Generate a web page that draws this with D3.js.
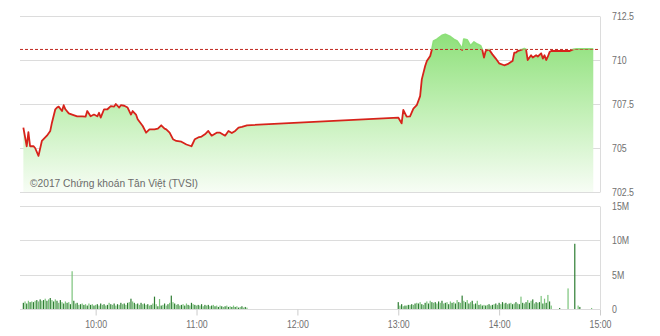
<!DOCTYPE html>
<html><head><meta charset="utf-8">
<script src="https://cdn.jsdelivr.net/npm/d3@7/dist/d3.min.js"></script>
<style>
html,body{margin:0;padding:0;background:#fff;}
svg{display:block;font-family:"Liberation Sans",Arial,sans-serif;}
</style></head>
<body>
<svg id="c" width="660" height="336"></svg>
<script>
// ---- data ----
const refPrice = 710.6;
const priceTimes = ["09:17","09:19","09:20","09:21","09:23","09:24","09:26","09:28","09:31","09:33","09:34","09:36","09:37","09:38","09:40","09:41","09:42","09:44","09:46","09:49","09:52","09:54","09:55","09:57","09:59","10:01","10:02","10:03","10:05","10:07","10:09","10:11","10:12","10:14","10:15","10:17","10:19","10:21","10:22","10:24","10:25","10:28","10:30","10:32","10:35","10:37","10:39","10:41","10:42","10:44","10:46","10:48","10:51","10:54","10:57","10:59","11:01","11:03","11:05","11:07","11:09","11:12","11:14","11:17","11:19","11:21","11:23","11:25","11:27","11:30",
"13:00","13:02","13:03","13:05","13:07","13:09","13:11","13:13","13:14","13:16","13:17","13:19","13:20","13:21","13:23","13:26","13:28","13:31","13:33","13:35","13:37","13:38","13:39","13:41","13:43","13:45","13:47","13:49","13:50","13:51","13:52","13:54","13:56","13:58","14:00","14:03","14:05","14:07","14:08","14:09","14:10","14:11","14:13","14:15","14:16","14:17","14:19","14:20","14:22","14:23","14:25","14:26","14:27","14:28","14:29","14:30","14:31","14:37","14:42","14:44","14:46","14:56"];
const priceValues = [706.16,705.1,705.9,705.1,705.1,705.0,704.55,705.4,705.7,705.97,706.44,707.2,707.3,707.35,707.1,707.43,707.2,706.97,706.9,706.8,706.8,706.78,707.1,706.8,706.9,706.8,707.0,706.73,707.2,707.2,707.38,707.35,707.5,707.3,707.43,707.4,707.3,706.9,707.1,706.9,706.63,706.25,705.87,706.06,706.06,706.1,706.29,706.1,706.06,705.87,705.5,705.4,705.36,705.2,705.1,705.5,705.6,705.65,705.78,705.97,705.7,705.87,705.87,705.7,705.97,705.85,705.97,706.16,706.2,706.29,
706.73,706.4,707.16,706.78,706.8,707.24,707.43,707.95,708.9,709.66,709.94,710.23,710.6,711.08,711.18,711.4,711.46,711.33,711.18,711.08,710.8,710.57,711.18,711.14,710.8,711.02,710.9,710.8,710.57,710.14,710.51,710.6,710.32,710.08,709.81,709.7,709.76,709.89,709.94,710.42,710.42,710.51,710.57,710.65,710.6,710.0,710.27,710.14,710.27,710.2,710.38,710.08,710.27,710.0,710.2,710.45,710.51,710.51,710.51,710.6,710.63,710.63];

const volMorningStart = "09:17";
const volMorning = [0.9,1.1,0.8,1.2,1.0,1.1,1.0,1.2,1.3,1.1,1.4,1.2,1.3,1.5,
1.2,1.4,1.6,1.3,1.1,1.4,1.2,0.9,1.3,1.0,0.8,1.1,0.9,1.0,0.7,
5.5,
1.2,0.8,0.9,0.6,0.7,0.8,0.6,0.7,0.5,0.8,0.6,0.7,0.5,0.6,
0.7,0.5,0.8,0.6,0.7,0.5,0.6,0.9,0.7,0.6,0.8,0.5,0.7,0.6,0.9,
0.7,0.8,0.6,0.9,1.0,1.5,1.1,0.9,0.7,0.8,0.6,0.9,0.7,0.8,0.6,
0.7,0.5,0.6,0.8,1.8,0.7,0.4,1.45,0.5,0.6,0.8,0.5,0.7,0.9,1.95,
1.0,0.8,0.6,0.7,0.5,0.6,0.7,0.5,0.8,0.6,0.5,0.9,0.7,0.6,0.5,
0.6,0.5,0.7,0.4,0.6,0.5,0.6,0.4,0.5,0.6,0.4,0.5,0.3,0.5,0.4,
0.3,0.4,0.5,0.3,0.4,0.3,0.5,0.3,0.4,0.2,0.3,0.4,0.2,0.3,0.2];
const volAfternoonStart = "13:00";
const volAfternoon = [1.0,0.5,0.7,0.4,0.5,0.5,0.6,0.6,0.7,0.6,0.8,0.9,0.8,1.0,0.7,0.6,
0.9,1.1,0.8,1.2,1.0,0.9,1.0,0.8,1.1,0.9,1.2,0.8,0.9,1.0,0.7,
1.1,0.9,1.0,0.8,1.3,1.0,0.9,1.95,1.2,1.0,1.3,0.8,1.0,1.2,0.7,
0.8,1.2,0.6,0.7,0.5,0.6,0.5,0.6,0.7,0.5,0.6,0.7,0.8,0.6,0.9,
0.7,1.0,0.8,0.9,0.7,0.8,0.9,0.7,0.8,1.0,0.8,0.7,1.8,0.9,0.8,
1.0,1.3,0.9,1.2,1.4,0.8,1.0,0.9,1.0,1.9,0.8,1.5,0.9,2.05,1.1,0.5];
const volLateTimes = ["14:36","14:41","14:45","14:47","14:48","14:55"];
const volLate = [0.15,3.0,9.5,0.5,0.3,0.15];

const priceTicks = [702.5,705,707.5,710,712.5];
const volTicks = [0,5,10,15];
const volTickLabels = ["0","5M","10M","15M"];
const timeTicks = ["10:00","11:00","12:00","13:00","14:00","15:00"];
const copyright = "©2017 Chứng khoán Tân Việt (TVSI)";

// ---- helpers ----
const parse = s => { const [h,m] = s.split(":").map(Number); return new Date(2017,0,1,h,m); };
const addMin = (s,i) => { const d = parse(s); return new Date(d.getTime()+i*60000); };

const price = priceTimes.map((t,i)=>({t:parse(t), v:priceValues[i]}));
const vols = [];
volMorning.forEach((v,i)=>vols.push({t:addMin(volMorningStart,i), v}));
volAfternoon.forEach((v,i)=>vols.push({t:addMin(volAfternoonStart,i), v}));
volLate.forEach((v,i)=>vols.push({t:parse(volLateTimes[i]), v}));

const svg = d3.select("#c");
const L = 20, R = 600;
const x = d3.scaleTime().domain([parse("09:15"), parse("15:00")]).range([L, R]);
const y = d3.scaleLinear().domain([702.5, 712.5]).range([192, 16]);
const yv = d3.scaleLinear().domain([0, 15]).range([309, 206]);
const grid = "#dcdcdc", txt = "#707070", SX = 0.8;

// top panel grid
const gTop = svg.append("g");
gTop.selectAll("line.g").data(priceTicks).join("line")
  .attr("x1", L).attr("x2", R)
  .attr("y1", d=>Math.round(y(d))+0.5).attr("y2", d=>Math.round(y(d))+0.5)
  .attr("stroke", grid).attr("stroke-width",1);
gTop.append("line").attr("x1",R+0.5).attr("x2",R+0.5).attr("y1",Math.round(y(712.5))+0.5).attr("y2",Math.round(y(702.5))+0.5)
  .attr("stroke",grid);

// gradient
const defs = svg.append("defs");
const grad = defs.append("linearGradient").attr("id","gf").attr("gradientUnits","userSpaceOnUse")
  .attr("x1",0).attr("x2",0).attr("y1",y(711.5)).attr("y2",y(702.5));
grad.append("stop").attr("offset",0).attr("stop-color","#8ee07a");
grad.append("stop").attr("offset",0.5).attr("stop-color","#c3f0b7");
grad.append("stop").attr("offset",1).attr("stop-color","#f7fdf5");

const area = d3.area().x(d=>x(d.t)).y0(y(702.5)).y1(d=>y(d.v));
svg.append("path").datum(price).attr("d",area).attr("fill","url(#gf)");

// copyright
svg.append("text").attr("x",30).attr("y",187).attr("font-size",11.5).attr("fill","#6b6b6b")
  .attr("textLength",168).attr("lengthAdjust","spacingAndGlyphs").text(copyright);

// ref line
svg.append("line").attr("x1",L).attr("x2",R).attr("y1",y(refPrice)).attr("y2",y(refPrice))
  .attr("stroke","#c0281f").attr("stroke-width",1).attr("stroke-dasharray","3,2");

// clip paths
defs.append("clipPath").attr("id","below").append("rect")
  .attr("x",0).attr("width",660).attr("y",y(refPrice)).attr("height",336);
defs.append("clipPath").attr("id","above").append("rect")
  .attr("x",0).attr("width",660).attr("y",0).attr("height",y(refPrice));
const line = d3.line().x(d=>x(d.t)).y(d=>y(d.v));
svg.append("path").datum(price).attr("d",line).attr("fill","none")
  .attr("stroke","#d7231b").attr("stroke-width",1.8).attr("stroke-linejoin","round")
  .attr("clip-path","url(#below)");
svg.append("path").datum(price).attr("d",line).attr("fill","none")
  .attr("stroke","#8ee07a").attr("stroke-width",1.8).attr("stroke-linejoin","round")
  .attr("clip-path","url(#above)");

// price axis labels
svg.append("g").selectAll("text").data(priceTicks).join("text")
  .attr("transform",d=>`translate(612,${y(d)+4}) scale(${SX},1)`).attr("font-size",11).attr("fill",txt)
  .text(d=>d3.format(".1f")(d).replace(/\.0$/,""));

// volume panel
const gB = svg.append("g");
gB.selectAll("line").data(volTicks).join("line")
  .attr("x1",L).attr("x2",R)
  .attr("y1",d=>Math.round(yv(d))+0.5).attr("y2",d=>Math.round(yv(d))+0.5)
  .attr("stroke",grid);
gB.append("line").attr("x1",R+0.5).attr("x2",R+0.5).attr("y1",Math.round(yv(15))+0.5).attr("y2",Math.round(yv(0))+0.5)
  .attr("stroke",grid);

svg.append("g").selectAll("rect").data(vols).join("rect")
  .attr("x",d=>x(d.t)-0.6).attr("width",1.2)
  .attr("y",d=>yv(d.v)).attr("height",d=>yv(0)-yv(d.v))
  .attr("fill",(d,i)=> i%2 ? "#7cc47c" : "#2e7d32");

svg.append("g").selectAll("text").data(volTicks).join("text")
  .attr("transform",d=>`translate(612,${yv(d)+4}) scale(${SX},1)`).attr("font-size",11).attr("fill",txt)
  .text((d,i)=>volTickLabels[i]);

// x axis
const xa = d3.axisBottom(x).tickValues(timeTicks.map(parse)).tickFormat(d3.timeFormat("%H:%M")).tickSize(6).tickPadding(5);
const gx = svg.append("g").attr("transform",`translate(0,${Math.round(yv(0))+0.5})`).call(xa);
gx.select(".domain").remove();
gx.selectAll(".tick line").attr("stroke","#cccccc");
gx.selectAll(".tick text").attr("fill",txt).attr("font-size",11)
  .attr("font-family","Liberation Sans, Arial, sans-serif").attr("transform",`scale(${SX},1)`);
</script>
</body></html>
